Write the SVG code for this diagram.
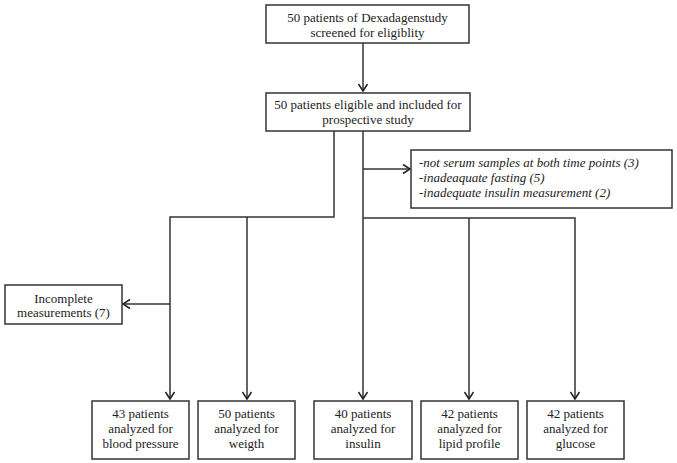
<svg xmlns="http://www.w3.org/2000/svg" width="677" height="463" viewBox="0 0 677 463">
<defs>
<marker id="arr" markerWidth="12" markerHeight="12" refX="10" refY="6" orient="auto" markerUnits="userSpaceOnUse">
<path d="M3,1.5 L10,6 L3,10.5" fill="none" stroke="#222" stroke-width="1.5"/>
</marker>
<style>
.box{fill:#fff;stroke:#333;stroke-width:1.5}
.t{font-family:"Liberation Serif","Times New Roman",serif;font-size:13px;fill:#222;text-anchor:middle}
.ti{font-family:"Liberation Serif","Times New Roman",serif;font-size:13px;fill:#222;font-style:italic}
.c{fill:none;stroke:#333;stroke-width:1.5}
</style>
</defs>
<rect width="677" height="463" fill="#fff"/>
<g id="connectors">
<line class="c" x1="363" y1="43" x2="363" y2="91" marker-end="url(#arr)"/>
<polyline class="c" points="334,131 334,217 170,217 170,399" marker-end="url(#arr)"/>
<line class="c" x1="247" y1="217" x2="247" y2="399" marker-end="url(#arr)"/>
<line class="c" x1="170" y1="304" x2="123" y2="304" marker-end="url(#arr)"/>
<line class="c" x1="363" y1="131" x2="363" y2="399" marker-end="url(#arr)"/>
<line class="c" x1="363" y1="169" x2="410" y2="169" marker-end="url(#arr)"/>
<polyline class="c" points="363,218 575,218 575,399" marker-end="url(#arr)"/>
<line class="c" x1="469" y1="218" x2="469" y2="399" marker-end="url(#arr)"/>
</g>
<g id="screened">
<rect class="box" x="266" y="5" width="203" height="38"/>
<text class="t" x="367.5" y="22">50 patients of Dexadagenstudy</text>
<text class="t" x="367.5" y="37">screened for eligiblity</text>
</g>
<g id="eligible">
<rect class="box" x="266" y="93" width="204" height="38"/>
<text class="t" x="368" y="108.5">50 patients eligible and included for</text>
<text class="t" x="368" y="123.5">prospective study</text>
</g>
<g id="excluded">
<rect class="box" x="411" y="150" width="261" height="58"/>
<text class="ti" x="419" y="166.5">-not serum samples at both time points (3)</text>
<text class="ti" x="419" y="181.5">-inadeaquate fasting (5)</text>
<text class="ti" x="419" y="196.5">-inadequate insulin measurement (2)</text>
</g>
<g id="incomplete">
<rect class="box" x="5" y="285" width="117" height="39"/>
<text class="t" x="63.5" y="302.5">Incomplete</text>
<text class="t" x="63.5" y="316.5">measurements (7)</text>
</g>
<g id="bp">
<rect class="box" x="92" y="401" width="97" height="58"/>
<text class="t" x="140.5" y="417.5">43 patients</text>
<text class="t" x="140.5" y="433">analyzed for</text>
<text class="t" x="140.5" y="448">blood pressure</text>
</g>
<g id="weight">
<rect class="box" x="198" y="401" width="97" height="58"/>
<text class="t" x="246.5" y="417.5">50 patients</text>
<text class="t" x="246.5" y="433">analyzed for</text>
<text class="t" x="246.5" y="448">weigth</text>
</g>
<g id="insulin">
<rect class="box" x="314" y="401" width="98" height="58"/>
<text class="t" x="363" y="417.5">40 patients</text>
<text class="t" x="363" y="433">analyzed for</text>
<text class="t" x="363" y="448">insulin</text>
</g>
<g id="lipid">
<rect class="box" x="421" y="401" width="97" height="58"/>
<text class="t" x="469.5" y="417.5">42 patients</text>
<text class="t" x="469.5" y="433">analyzed for</text>
<text class="t" x="469.5" y="448">lipid profile</text>
</g>
<g id="glucose">
<rect class="box" x="527" y="401" width="97" height="58"/>
<text class="t" x="575.5" y="417.5">42 patients</text>
<text class="t" x="575.5" y="433">analyzed for</text>
<text class="t" x="575.5" y="448">glucose</text>
</g>
</svg>
